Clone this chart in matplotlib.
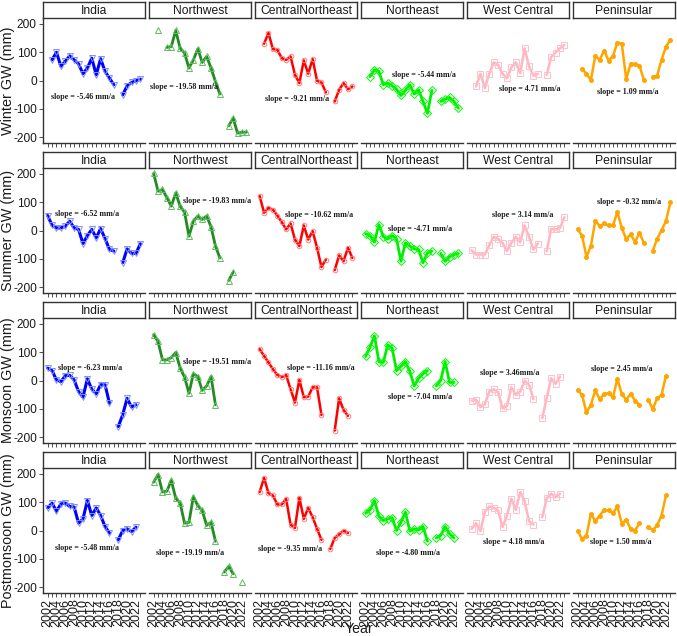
import numpy as np
import matplotlib
matplotlib.use("Agg")
import matplotlib.pyplot as plt

plt.rcParams["font.family"] = ["Liberation Sans", "DejaVu Sans"]
plt.rcParams["axes.unicode_minus"] = False

N = np.nan
years = list(range(2002, 2024))
regions = ["India", "Northwest", "CentralNortheast", "Northeast", "West Central", "Peninsular"]
seasons = ["Winter", "Summer", "Monsoon", "Postmonsoon"]

# ---- data (mm), years 2002..2023 ----
winter_india = [N, 73, 100, 50, 68, 87, 73, 59, 24, 44, 79, 20, 77, 32, 8, -15, N, -51, -19, -7, -1, 5]
winter_nw = [N, 179, N, 117, 120, 177, 114, 97, 44, 73, 112, 64, 85, 44, -4, -48, N, -160, -133, -186, -183, -183]
winter_cne = [N, 130, 168, 111, 109, 79, 73, 85, 20, -9, 71, 24, 76, -1, -7, -42, N, -74, -33, -9, -31, -21]
winter_ne = [N, 14, 38, 32, -15, -9, -19, -31, -53, -35, -15, -48, -33, -74, -116, -35, N, -74, -66, -60, -74, -98]
winter_wc = [N, -21, 24, -27, 24, 64, 55, 24, 8, 47, 64, 26, 114, 50, 17, 24, N, 20, 83, 99, 114, 126]
winter_pen = [N, 41, 24, 2, 87, 73, 106, 70, 87, 134, 130, 5, 59, 58, 53, 2, N, 12, 17, 73, 120, 144]

summer_india = [53, 18, 9, 9, 15, 33, 9, 4, -46, -18, 4, -26, 7, -29, -67, -73, N, -114, -65, -81, -81, -47]
summer_nw = [202, 139, 145, 116, 86, 133, 86, 65, -20, 33, 51, 39, 51, 13, -55, -97, N, -177, -147, N, N, N]
summer_cne = [122, 63, 80, 74, 53, 30, 4, 25, -32, -55, 18, -32, -2, -61, -129, -103, N, -140, -88, -109, -61, -97]
summer_ne = [-11, -18, -41, 21, -22, -30, -18, -30, -109, -44, -55, -65, -67, -114, -79, -73, N, -81, -109, -93, -85, -81]
summer_wc = [-70, -85, -85, -85, -52, -22, -30, -44, -73, -44, -22, -41, 18, -22, -67, -46, N, -73, 6, 4, 9, 47]
summer_pen = [4, -18, -93, -55, 35, 15, 25, 18, 18, 66, 9, -30, -14, -41, -8, -44, N, -73, -30, 1, 33, 100]

monsoon_india = [44, 35, 2, -4, 17, 18, 2, -39, -59, 6, -31, -47, -15, -15, -80, N, -163, -121, -63, -94, -86, N]
monsoon_nw = [162, 138, 73, 73, 81, 99, 44, 12, -45, 24, 14, -35, -19, 14, -86, N, N, N, N, N, N, N]
monsoon_cne = [111, 87, 64, 40, 20, 12, 20, -31, -78, 2, -59, -57, -24, -24, -122, N, N, -177, -63, -104, -125, N]
monsoon_ne = [85, 118, 158, 67, 64, 126, 114, 35, 50, 67, 32, -19, 8, 24, 35, N, -19, 0, 67, -7, -7, N]
monsoon_wc = [-71, -68, -94, -83, -39, -31, -42, -98, -90, -24, -51, -39, -1, -15, -66, N, -133, -63, 8, -12, 14, N]
monsoon_pen = [-33, -51, -113, -86, -35, -66, -47, -45, -59, 6, -48, -68, -47, -71, -86, N, -68, -101, -63, -51, 17, N]

post_india = [80, 97, 68, 94, 97, 85, 83, 26, 41, 106, 53, 80, 53, 14, -9, N, -33, 0, 6, -4, 12, N]
post_nw = [171, 198, 136, 139, 177, 114, 97, 26, 29, 120, 88, 71, 18, 29, -38, N, -147, -127, -153, N, -183, N]
post_cne = [136, 186, 132, 124, 92, 92, 112, 21, 9, 116, 41, 80, 47, 6, -33, N, -65, -26, -14, 0, -9, N]
post_ne = [61, 73, 106, 50, 35, 41, 45, 0, 29, 65, -2, 6, 2, 14, -38, N, -26, -18, 14, -12, -26, N]
post_wc = [6, 26, -2, 67, 85, 80, 71, 12, 53, 112, 73, 136, 104, 33, 21, N, 47, 114, 130, 118, 130, N]
post_pen = [-2, -30, -18, 59, 33, 53, 73, 71, 61, 85, 24, 38, 6, 0, 26, N, 14, 2, 18, 53, 124, N]

series = [
    [winter_india, winter_nw, winter_cne, winter_ne, winter_wc, winter_pen],
    [summer_india, summer_nw, summer_cne, summer_ne, summer_wc, summer_pen],
    [monsoon_india, monsoon_nw, monsoon_cne, monsoon_ne, monsoon_wc, monsoon_pen],
    [post_india, post_nw, post_cne, post_ne, post_wc, post_pen],
]

slope_labels = [
    ["slope = -5.46 mm/a", "slope = -19.58 mm/a", "slope = -9.21 mm/a", "slope = -5.44 mm/a", "slope = 4.71 mm/a", "slope = 1.09 mm/a"],
    ["slope = -6.52 mm/a", "slope = -19.83 mm/a", "slope = -10.62 mm/a", "slope = -4.71 mm/a", "slope = 3.14 mm/a", "slope = -0.32 mm/a"],
    ["slope = -6.23 mm/a", "slope = -19.51 mm/a", "slope = -11.16 mm/a", "slope = -7.04 mm/a", "slope = 3.46mm/a", "slope = 2.45 mm/a"],
    ["slope = -5.48 mm/a", "slope = -19.19 mm/a", "slope = -9.35 mm/a", "slope = -4.80 mm/a", "slope = 4.18 mm/a", "slope = 1.50 mm/a"],
]
# label anchor positions (year, mm)
slope_pos = [
    [(2010.0, -57), (2008.8, -23), (2010.5, -66), (2015.3, 20), (2015.1, -30), (2013.4, -41)],
    [(2010.9, 60), (2016.4, 104), (2015.4, 54), (2014.4, 6), (2013.65, 54), (2013.7, 102)],
    [(2011.7, 44), (2016.4, 65), (2015.8, 44), (2014.4, -59), (2010.6, 28), (2011.9, 40)],
    [(2010.9, -61), (2010.3, -79), (2009.0, -67), (2011.6, -79), (2011.5, -41), (2011.7, -41)],
]

styles = [
    dict(color="#0000FF", marker="v", mfc="none", mec="#7F8FFF", ms=3.8, lw=2.2),
    dict(color="#228B22", marker="^", mfc="none", mec="#5FBF5F", ms=3.8, lw=2.0),
    dict(color="#FF0000", marker="o", mfc="none", mec="#FF7F7F", ms=3.3, lw=1.8),
    dict(color="#00EE00", marker="D", mfc="none", mec="#00FF00", ms=4.0, lw=2.0),
    dict(color="#FFB6C1", marker="s", mfc="none", mec="#FFC0CB", ms=4.0, lw=1.8),
    dict(color="#FFA500", marker="o", mfc="#FFA500", mec="#FFA500", ms=2.8, lw=1.8),
]

W, H = 677, 636
fig = plt.figure(figsize=(W / 100, H / 100), dpi=100)
col_left = [43, 149, 255, 361, 467, 573]
pw = 102
strip_top = [2, 152, 302, 452]
strip_h = 16
panel_bottom = [143, 293, 443, 593]
txtc = "#1a1a1a"

for r in range(4):
    ptop = strip_top[r] + strip_h
    pb = panel_bottom[r]
    for c in range(6):
        L = col_left[c]
        ax = fig.add_axes([L / W, 1 - pb / H, pw / W, (pb - ptop) / H])
        st = styles[c]
        ax.plot(years, series[r][c], color=st["color"], lw=st["lw"], marker=st["marker"],
                mfc=st["mfc"], mec=st["mec"], ms=st["ms"], mew=0.7, solid_capstyle="round")
        ax.set_xlim(2000.95, 2024.05)
        ax.set_ylim(-221, 221)
        for s in ["top", "right"]:
            ax.spines[s].set_visible(False)
        ax.spines["bottom"].set_linewidth(1.0)
        ax.spines["bottom"].set_color("#333333")
        if c == 0:
            ax.spines["left"].set_linewidth(1.0)
            ax.spines["left"].set_color("#333333")
            ax.set_yticks([-200, -100, 0, 100, 200])
            ax.tick_params(axis="y", length=3, width=0.6, color="#333333", labelsize=8.6,
                           labelcolor=txtc, pad=1.5)
        else:
            ax.spines["left"].set_visible(False)
            ax.set_yticks([])
        ax.set_xticks(years)
        if r == 3:
            ax.set_xticklabels([str(y) if y % 2 == 0 and y <= 2022 else "" for y in years],
                               rotation=90, fontsize=9.0, color=txtc)
        else:
            ax.set_xticklabels([])
        ax.tick_params(axis="x", length=3, width=0.6, color="#333333", pad=1.0)
        lx, ly = slope_pos[r][c]
        ax.text(lx, ly, slope_labels[r][c], ha="center", va="center",
                family="Liberation Serif", fontweight="bold", fontsize=5.8, color=txtc)
        # strip
        sax = fig.add_axes([L / W, 1 - ptop / H, pw / W, strip_h / H])
        sax.set_xticks([]); sax.set_yticks([])
        for s in sax.spines.values():
            s.set_linewidth(1.0); s.set_color("#333333")
        sax.text(0.5, 0.45, regions[c], ha="center", va="center", fontsize=8.7,
                 color=txtc, transform=sax.transAxes)
    ymid = (ptop + pb) / 2
    fig.text(8 / W, 1 - ymid / H, f"{seasons[r]} GW (mm)", rotation=90, ha="center",
             va="center", fontsize=10.4, color=txtc)

fig.text(359 / W, 1 - 633 / H, "Year", ha="center", va="baseline", fontsize=10.2, color=txtc)

fig.savefig("out.png", dpi=100)
